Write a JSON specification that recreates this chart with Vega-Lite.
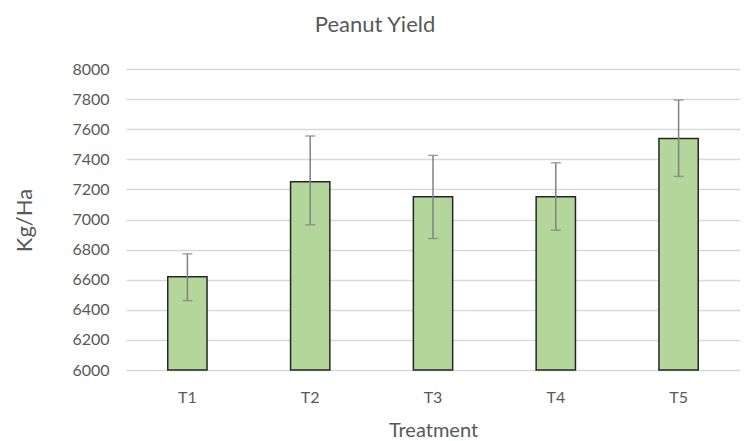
{
  "$schema": "https://vega.github.io/schema/vega-lite/v6.json",
  "width": 614,
  "height": 301,
  "autosize": {"type": "none"},
  "padding": {"left": 126, "top": 69, "right": 10, "bottom": 71},
  "background": "white",
  "title": {
    "text": "Peanut Yield",
    "font": "Lato",
    "fontSize": 22,
    "fontWeight": "normal",
    "color": "#595959",
    "anchor": "middle",
    "dx": -58,
    "offset": 7,
    "baseline": "alphabetic"
  },
  "config": {
    "view": {"stroke": null},
    "font": "Lato"
  },
  "data": {
    "values": [
      {"treatment": "T1", "yield": 6620, "low": 6461, "high": 6772},
      {"treatment": "T2", "yield": 7251, "low": 6965, "high": 7555},
      {"treatment": "T3", "yield": 7151, "low": 6874, "high": 7426},
      {"treatment": "T4", "yield": 7151, "low": 6929, "high": 7377},
      {"treatment": "T5", "yield": 7539, "low": 7286, "high": 7794}
    ]
  },
  "encoding": {
    "x": {
      "field": "treatment",
      "type": "nominal",
      "scale": {"paddingInner": 0.68, "paddingOuter": 0.34},
      "axis": {
        "title": "Treatment",
        "labelAngle": 0,
        "labelFont": "Lato",
        "labelFontSize": 16,
        "labelColor": "#595959",
        "labelPadding": 19,
        "ticks": false,
        "domain": false,
        "titleFont": "Lato",
        "titleFontSize": 20,
        "titleFontWeight": "normal",
        "titleColor": "#595959",
        "titleBaseline": "middle",
        "titleY": 60
      }
    }
  },
  "layer": [
    {
      "mark": {"type": "bar", "fill": "#B3D69B", "stroke": "#262626", "strokeWidth": 1.5},
      "encoding": {
        "y": {
          "field": "yield",
          "type": "quantitative",
          "scale": {"domain": [6000, 8000], "zero": false, "nice": false},
          "axis": {
            "title": "Kg/Ha",
            "values": [6000, 6200, 6400, 6600, 6800, 7000, 7200, 7400, 7600, 7800, 8000],
            "tickCount": 20,
            "format": "d",
            "labelOverlap": false,
            "labelFont": "Lato",
            "labelFontSize": 16,
            "labelColor": "#595959",
            "labelPadding": 17,
            "ticks": false,
            "domain": false,
            "grid": true,
            "gridColor": "#D9D9D9",
            "gridWidth": 1.5,
            "titleFont": "Lato",
            "titleFontSize": 22,
            "titleFontWeight": "normal",
            "titleColor": "#595959",
            "titleBaseline": "middle",
            "titleX": -102,
            "titleY": 151
          }
        },
        "y2": {"datum": 6000}
      }
    },
    {
      "mark": {"type": "rule", "color": "#808080", "strokeWidth": 1.5},
      "encoding": {
        "y": {"field": "low", "type": "quantitative", "axis": {"values": [6000, 6200, 6400, 6600, 6800, 7000, 7200, 7400, 7600, 7800, 8000], "tickCount": 20, "labelOverlap": false}},
        "y2": {"field": "high"}
      }
    },
    {
      "mark": {"type": "tick", "color": "#808080", "thickness": 1.5, "size": 10, "orient": "horizontal"},
      "encoding": {
        "y": {"field": "low", "type": "quantitative", "axis": {"values": [6000, 6200, 6400, 6600, 6800, 7000, 7200, 7400, 7600, 7800, 8000], "tickCount": 20, "labelOverlap": false}}
      }
    },
    {
      "mark": {"type": "tick", "color": "#808080", "thickness": 1.5, "size": 10, "orient": "horizontal"},
      "encoding": {
        "y": {"field": "high", "type": "quantitative", "axis": {"values": [6000, 6200, 6400, 6600, 6800, 7000, 7200, 7400, 7600, 7800, 8000], "tickCount": 20, "labelOverlap": false}}
      }
    }
  ]
}
